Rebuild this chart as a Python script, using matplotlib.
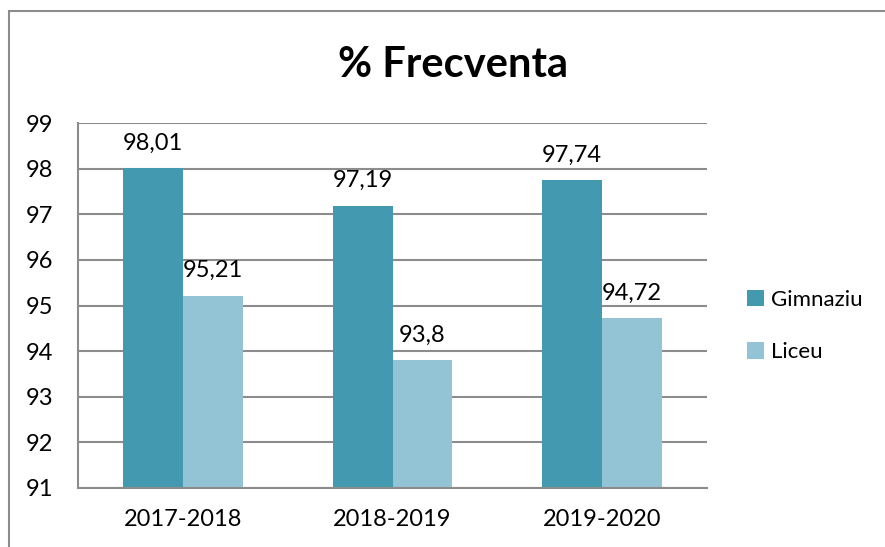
import matplotlib.pyplot as plt
import numpy as np
from matplotlib.patches import Rectangle

# data
years = ["2017-2018", "2018-2019", "2019-2020"]
gimnaziu = [98.01, 97.19, 97.74]
liceu = [95.21, 93.8, 94.72]
gim_labels = ["98,01", "97,19", "97,74"]
lic_labels = ["95,21", "93,8", "94,72"]

plt.rcParams['font.family'] = ['Lato', 'DejaVu Sans']

fig = plt.figure(figsize=(8.85, 5.47), dpi=100)
ax = fig.add_axes([78/885, 1-488/547, (707-78)/885, (488-123)/547])

x = np.arange(len(years))
w = 0.286
b1 = ax.bar(x - w/2, np.array(gimnaziu) - 91, w, bottom=91, color="#4399B0", label="Gimnaziu")
b2 = ax.bar(x + w/2, np.array(liceu) - 91, w, bottom=91, color="#93C4D5", label="Liceu")

fs = 17
for xi, v, t in zip(x - w/2, gimnaziu, gim_labels):
  ax.annotate(t, (xi, v), xytext=(0, 10.5), textcoords="offset points", ha="center", va="bottom", fontsize=fs)
for xi, v, t in zip(x + w/2, liceu, lic_labels):
  ax.annotate(t, (xi, v), xytext=(0, 10.5), textcoords="offset points", ha="center", va="bottom", fontsize=fs)

ax.set_xlim(-0.5, 2.5)
ax.set_ylim(91, 99)
ax.set_yticks(range(91, 100))
ax.set_xticks(x)
ax.set_xticklabels(years)
ax.tick_params(axis="both", length=0, labelsize=fs)
ax.tick_params(axis="x", pad=15)
ax.tick_params(axis="y", pad=18)
ax.yaxis.grid(True, color="#8c8c8c", linewidth=1.5)
ax.set_axisbelow(True)
for s in ["top", "right"]:
  ax.spines[s].set_visible(False)
for s in ["left", "bottom"]:
  ax.spines[s].set_color("#8c8c8c")
  ax.spines[s].set_linewidth(1.5)

fig.text(453/885, 1-65/547, "% Frecventa", ha="center", va="center", fontsize=30, fontweight="bold")

fig.legend(handles=[b1, b2], loc="center left", bbox_to_anchor=(747/885, 1-326/547), frameon=False,
           fontsize=16, handlelength=0.75, handleheight=0.75, handletextpad=0.35, labelspacing=1.45,
           borderpad=0, borderaxespad=0)

# outer chart border
fig.patches.append(Rectangle((9/885, -0.1), 1.1, 1-11/547+0.1, transform=fig.transFigure,
                             fill=False, edgecolor="#8c8c8c", linewidth=1.5))

fig.savefig("out.png", dpi=100)
